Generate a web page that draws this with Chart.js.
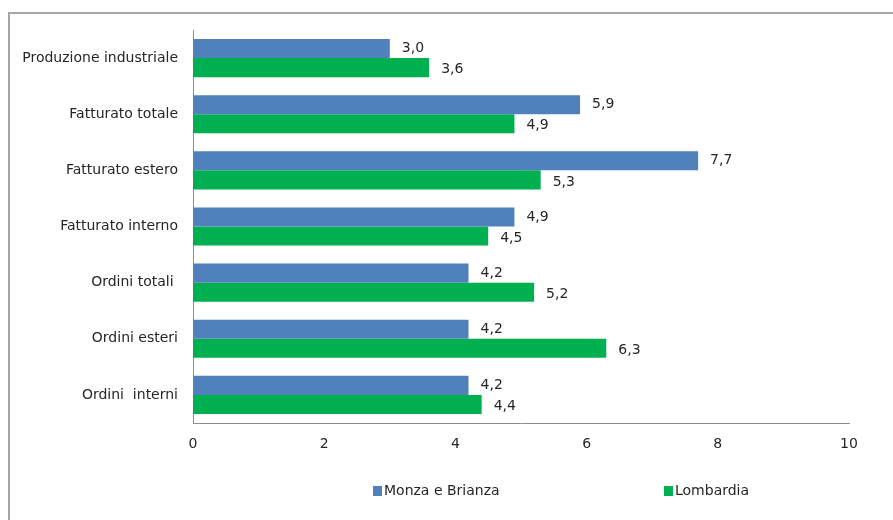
<!DOCTYPE html>
<html>
<head>
<meta charset="utf-8">
<script src="https://cdn.jsdelivr.net/npm/chart.js@4.4.1/dist/chart.umd.min.js"></script>
<style>
html,body{margin:0;padding:0;background:#fff;}
#wrap{position:relative;width:893px;height:520px;}
#frame{position:absolute;left:8px;top:12px;width:900px;height:520px;border-left:2px solid #a6a6a6;border-top:2px solid #a6a6a6;box-sizing:border-box;}
canvas{position:absolute;left:0;top:0;}
</style>
</head>
<body>
<div id="wrap"><div id="frame"></div><canvas id="c" width="893" height="520"></canvas></div>
<script>
const categories = ["Produzione industriale","Fatturato totale","Fatturato estero","Fatturato interno","Ordini totali ","Ordini esteri","Ordini  interni"];
const monzaBrianza = [3.0,5.9,7.7,4.9,4.2,4.2,4.2];
const lombardia = [3.6,4.9,5.3,4.5,5.2,6.3,4.4];
const seriesNames = ["Monza e Brianza","Lombardia"];
const xTicks = [0,2,4,6,8,10];

const FONT = "'DejaVu Sans', Verdana, sans-serif";

const valueLabels = {
  id:'valueLabels',
  afterDatasetsDraw(chart){
    const ctx = chart.ctx;
    ctx.save();
    ctx.font = "14px " + FONT;
    ctx.fillStyle = "#262626";
    ctx.textAlign = "left";
    ctx.textBaseline = "middle";
    chart.data.datasets.forEach((ds,di)=>{
      chart.getDatasetMeta(di).data.forEach((bar,i)=>{
        const v = ds.data[i];
        ctx.fillText(v.toFixed(1).replace('.',','), bar.x + 12, bar.y + (di===1?2:0));
      });
    });
    ctx.restore();
  }
};

const customLegend = {
  id:'customLegend',
  afterDraw(chart){
    const ctx = chart.ctx;
    ctx.save();
    ctx.font = "14px " + FONT;
    ctx.textBaseline = "middle";
    const xs = [373, 664];
    const y = 491;
    chart.data.datasets.forEach((ds,di)=>{
      ctx.fillStyle = ds.backgroundColor;
      ctx.fillRect(xs[di], y-5, 9, 10);
      ctx.fillStyle = "#262626";
      ctx.fillText(ds.label, xs[di]+11, y);
    });
    ctx.restore();
  }
};

new Chart(document.getElementById('c'), {
  type:'bar',
  data:{
    labels:categories,
    datasets:[
      {label:seriesNames[0], data:monzaBrianza, backgroundColor:'#4F81BD'},
      {label:seriesNames[1], data:lombardia, backgroundColor:'#00B050'}
    ]
  },
  options:{
    indexAxis:'y',
    responsive:false,
    animation:false,
    devicePixelRatio:1,
    layout:{padding:{left:0,right:44,top:30,bottom:0}},
    datasets:{bar:{categoryPercentage:0.68,barPercentage:1.0}},
    plugins:{legend:{display:false},tooltip:{enabled:false}},
    scales:{
      x:{
        min:0,max:10,
        afterBuildTicks(s){ s.ticks = xTicks.map(v=>({value:v})); },
        grid:{display:false,drawTicks:false},
        border:{display:true,color:'#8c8c8c',width:1},
        ticks:{padding:13,color:'#262626',font:{family:FONT,size:14}},
        afterFit(s){ s.height = 97; }
      },
      y:{
        grid:{display:false,drawTicks:false},
        border:{display:true,color:'#8c8c8c',width:1},
        ticks:{padding:15,color:'#262626',font:{family:FONT,size:14}},
        afterFit(s){ s.width = 193; }
      }
    }
  },
  plugins:[valueLabels,customLegend]
});
</script>
</body>
</html>
